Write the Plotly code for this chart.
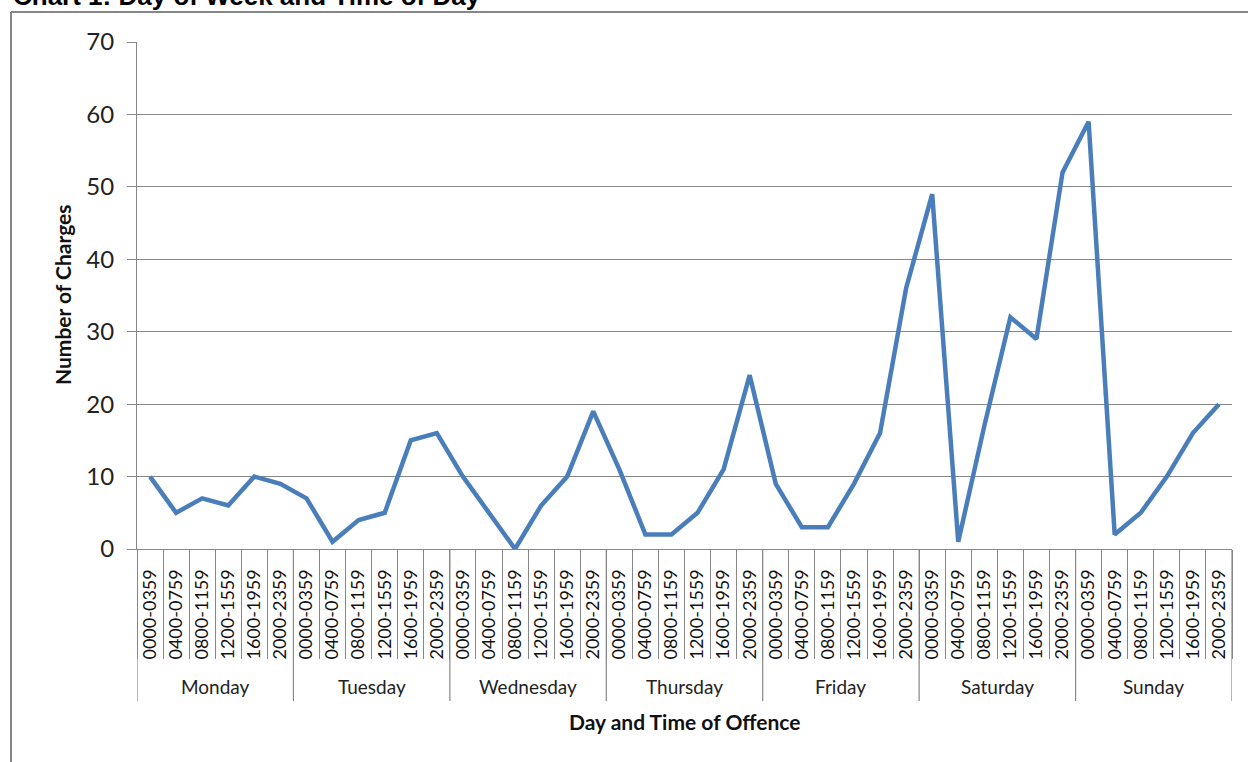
import plotly.graph_objects as go

days = ["Monday", "Tuesday", "Wednesday", "Thursday", "Friday", "Saturday", "Sunday"]
times = ["0000-0359", "0400-0759", "0800-1159", "1200-1559", "1600-1959", "2000-2359"]
charges = [
    10, 5, 7, 6, 10, 9,      # Monday
    7, 1, 4, 5, 15, 16,      # Tuesday
    10, 5, 0, 6, 10, 19,     # Wednesday
    11, 2, 2, 5, 11, 24,     # Thursday
    9, 3, 3, 9, 16, 36,      # Friday
    49, 1, 17, 32, 29, 52,   # Saturday
    59, 2, 5, 10, 16, 20,    # Sunday
]
y_ticks = [0, 10, 20, 30, 40, 50, 60, 70]

W, H = 1248, 762
L, R, T, B = 137, 1232, 42, 549
GRID = "#878787"
FONT = "Lato, Carlito, Calibri, sans-serif"


def px(xp):
    return (xp - L) / (R - L)


def py(yp):
    return (B - yp) / (B - T)


n = len(days) * len(times)
xs = list(range(n))
labels = [times[i % len(times)] for i in xs]

fig = go.Figure()
fig.add_trace(go.Scatter(
    x=xs, y=charges, mode="lines",
    line=dict(color="#4A7EBB", width=4.5),
    hoverinfo="skip", showlegend=False,
))

shapes = []
annotations = []
# day separators and day labels
for d, day in enumerate(days):
    b = d * len(times) - 0.5
    shapes.append(dict(type="line", xref="x", yref="paper", x0=b, x1=b,
                       y0=0, y1=py(701), line=dict(color=GRID, width=1.2)))
    annotations.append(dict(x=d * len(times) + (len(times) - 1) / 2, y=py(686),
                            xref="x", yref="paper", text=day, showarrow=False,
                            font=dict(family=FONT, size=19, color="#222222"),
                            xanchor="center", yanchor="middle"))
last = n - 0.5
shapes.append(dict(type="line", xref="x", yref="paper", x0=last, x1=last,
                   y0=0, y1=py(701), line=dict(color=GRID, width=1.2)))

# frame
shapes.append(dict(type="line", xref="paper", yref="paper", x0=px(11), x1=px(1270),
                   y0=py(12), y1=py(12), line=dict(color="#868686", width=2)))
shapes.append(dict(type="line", xref="paper", yref="paper", x0=px(11), x1=px(11),
                   y0=py(12), y1=py(780), line=dict(color="#868686", width=2)))

# axis titles
annotations.append(dict(x=px(684), y=py(721), xref="paper", yref="paper",
                        text="<b>Day and Time of Offence</b>", showarrow=False,
                        font=dict(family=FONT, size=21, color="#111111"),
                        xanchor="center", yanchor="middle"))
annotations.append(dict(x=px(62), y=py(295), xref="paper", yref="paper",
                        text="<b>Number of Charges</b>", showarrow=False, textangle=-90,
                        font=dict(family=FONT, size=21, color="#111111"),
                        xanchor="center", yanchor="middle"))
# chart title (partly cut off at the top, as in the reference)
annotations.append(dict(x=px(11), y=py(13), xref="paper", yref="paper",
                        text="<b>Chart 1: Day of Week and Time of Day</b>", showarrow=False,
                        font=dict(family="Liberation Sans, Arial, sans-serif", size=26, color="#000000"),
                        xanchor="left", yanchor="bottom"))

fig.update_layout(
    width=W, height=H,
    margin=dict(l=L, r=W - R, t=T, b=H - B, pad=0),
    paper_bgcolor="white", plot_bgcolor="white",
    shapes=shapes, annotations=annotations,
    showlegend=False,
)
fig.update_xaxes(
    range=[-0.5, n - 0.5], tickmode="array", tickvals=xs, ticktext=labels,
    tickangle=-90, ticks="", ticklabelstandoff=12,
    tickfont=dict(family=FONT, size=18, color="#111111"),
    showgrid=False, zeroline=False, showline=True, linecolor=GRID, linewidth=1.2,
    minor=dict(tick0=-0.5, dtick=1, ticks="outside", ticklen=109, tickcolor=GRID,
               tickwidth=1.2, showgrid=False),
    fixedrange=True,
)
fig.update_yaxes(
    range=[0, 70], tickmode="array", tickvals=y_ticks,
    ticks="outside", ticklen=9, tickcolor=GRID, tickwidth=1.2,
    ticklabelstandoff=8,
    tickfont=dict(family=FONT, size=24, color="#222222"),
    showgrid=True, gridcolor=GRID, gridwidth=1.2,
    zeroline=False, showline=True, linecolor=GRID, linewidth=1.2,
    fixedrange=True,
)

# remove the browser's default 8px page margin so the figure sits at the corner
fig.write_html(
    "out.html",
    config={"displayModeBar": False},
    post_script="document.body.style.margin='0px';document.body.style.overflow='hidden';",
)
